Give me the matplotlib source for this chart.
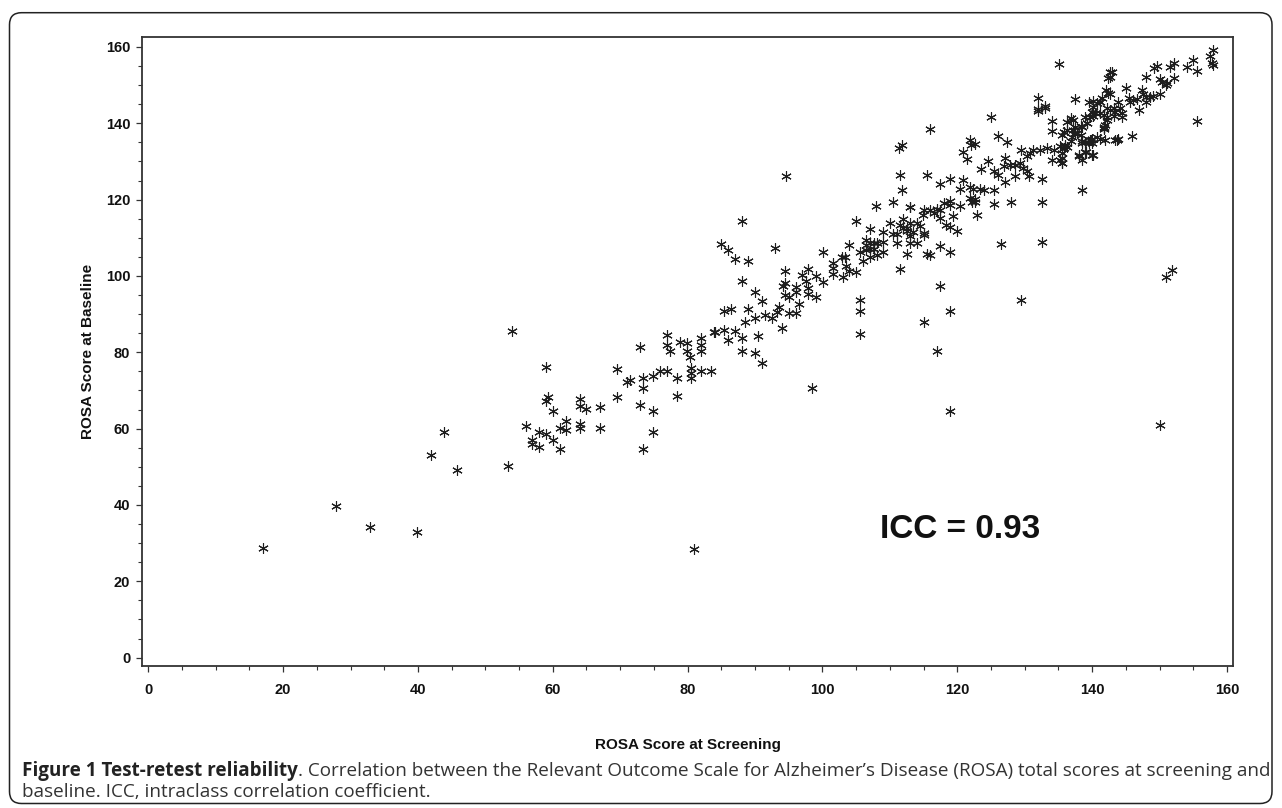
import matplotlib
matplotlib.use("Agg")
import matplotlib.pyplot as plt
from matplotlib.patches import FancyBboxPatch
from matplotlib.ticker import MultipleLocator

# ---------------- data ----------------
# ROSA score at screening (x) and at baseline (y)
screening_low = [17.0, 27.9, 32.9, 39.9, 41.9, 43.9, 45.8, 53.4, 53.9]
baseline_low = [28.8, 39.6, 34.1, 33.0, 53.1, 59.1, 49.2, 50.1, 85.7]

screening_b = [56.0, 56.9, 56.9, 58.0, 58.0, 59.0, 59.0, 59.3, 59.0, 60.0, 60.0, 61.0, 61.0, 62.0, 62.0,
               64.0, 64.0, 64.9, 67.0, 64.0, 64.0, 67.0, 69.5, 69.5, 71.0, 71.5, 73.4, 73.4, 73.0, 73.0,
               74.9, 74.9, 74.9, 73.4, 75.9, 76.9, 78.4, 78.4, 76.9, 76.9, 77.4, 78.9, 79.9, 79.9, 80.4,
               80.5, 80.5, 80.5, 82.0, 83.4, 82.0, 82.0, 82.0, 83.9, 81.0]
baseline_b = [60.6, 57.1, 56.0, 59.1, 55.2, 58.6, 76.2, 68.2, 67.3, 64.7, 57.1, 54.6, 60.2, 62.1, 59.7,
              67.8, 66.0, 65.2, 65.6, 61.2, 60.2, 60.2, 75.7, 68.4, 72.2, 72.8, 73.2, 70.6, 81.3, 66.2,
              73.7, 64.7, 59.1, 54.6, 75.2, 75.2, 73.2, 68.6, 84.4, 81.8, 80.2, 82.8, 82.4, 80.2, 78.7,
              75.9, 74.5, 73.2, 75.2, 75.2, 83.7, 82.0, 80.2, 85.3, 28.4]

screening_c = [88.0, 84.9, 86.0, 87.0, 89.0, 93.0, 88.0, 90.0, 91.0, 85.4, 86.5, 89.0, 88.5, 90.0, 91.5,
               92.5, 84.0, 85.4, 87.0, 86.0, 88.0, 90.5, 88.0, 90.0, 91.0, 94.0, 93.5, 93.3, 95.0, 96.1,
               96.5, 94.5, 94.1, 94.5, 94.5, 95.0, 96.1, 96.1, 96.9, 97.9, 97.6, 97.9, 97.9, 99.0, 99.0,
               100.1, 98.5, 100.1, 101.5, 101.5, 101.5, 103.0, 103.4, 102.9, 103.5, 104.0, 105.0, 104.0, 105.0, 105.5,
               105.5, 105.5, 105.5, 106.0, 106.5, 106.5, 106.5, 107.1, 107.1, 107.6, 108.1, 107.1, 107.6, 107.1, 108.1,
               109.0, 109.0, 109.0, 108.0, 110.4, 110.0, 111.0, 110.5, 111.0, 111.5, 111.5, 112.0, 112.5, 112.5, 113.0,
               113.0, 113.5, 113.0, 114.0, 114.9, 116.5, 117.5, 118.9, 114.0, 115.0, 115.5, 116.0, 117.5, 117.5, 118.9,
               118.9, 115.0, 117.0, 118.9, 94.6, 119.9, 118.4, 117.5]
baseline_c = [114.3, 108.4, 106.9, 104.4, 103.8, 107.4, 98.8, 95.9, 93.4, 90.8, 91.3, 91.3, 87.8, 88.9, 89.8,
              88.9, 85.3, 85.9, 85.6, 83.3, 83.8, 84.3, 80.2, 79.8, 77.2, 86.3, 91.8, 90.5, 90.3, 90.3,
              92.7, 101.4, 97.4, 98.1, 95.1, 94.6, 97.1, 95.7, 100.3, 101.9, 98.6, 96.8, 95.3, 94.6, 100.0,
              98.5, 70.6, 106.3, 103.4, 102.1, 100.6, 99.7, 105.0, 105.0, 102.5, 101.2, 100.9, 108.0, 114.3, 93.8,
              90.8, 84.7, 106.3, 103.8, 109.5, 108.2, 106.9, 112.3, 108.7, 108.7, 108.7, 107.1, 107.1, 105.0, 105.6,
              111.4, 108.8, 106.4, 118.4, 119.3, 113.9, 108.6, 111.1, 111.1, 101.9, 113.4, 112.5, 112.5, 105.8, 118.0,
              110.5, 111.4, 108.6, 113.9, 116.0, 116.5, 117.4, 118.7, 108.6, 111.2, 105.8, 105.4, 107.9, 97.3, 106.4,
              90.8, 87.8, 80.2, 64.7, 126.2, 111.7, 113.4, 115.2]

screening_d = [116.0, 125.0, 111.8, 111.3, 121.9, 122.0, 122.7, 120.9, 121.5, 126.0, 127.4, 115.5, 117.5, 118.9, 120.9,
               120.4, 121.9, 122.4, 123.3, 124.0, 125.5, 121.9, 122.7, 122.7, 122.2, 122.9, 125.5, 128.0, 132.5, 132.5,
               132.5, 126.5, 138.5, 129.5, 113.0, 115.0, 116.0, 117.0, 118.0, 118.9, 120.4, 119.4, 112.0, 113.0, 114.5,
               112.5, 115.0, 118.9, 111.5, 111.8,
               125.4, 126.1, 126.9, 127.1, 127.8, 128.6, 129.3, 129.8, 130.3, 130.6, 128.6, 127.1, 130.8, 131.3, 132.3,
               133.3, 134.3, 135.3, 136.0, 136.8, 137.5, 138.3, 139.2, 140.2, 141.2, 142.2, 143.2, 134.0, 135.3, 135.5,
               138.0, 138.5, 140.0, 139.1, 134.0, 134.0, 132.0, 133.0, 138.5, 139.9, 141.7, 143.4, 137.2, 136.3, 130.3,
               129.5, 124.5, 123.5]
baseline_d = [138.5, 141.6, 134.4, 133.5, 135.7, 134.4, 134.5, 132.6, 130.6, 136.7, 135.0, 126.5, 124.2, 125.5, 125.2,
              122.8, 123.2, 122.8, 122.8, 122.5, 122.6, 120.5, 120.1, 119.3, 119.3, 116.0, 118.9, 119.5, 119.5, 125.5,
              108.9, 108.4, 122.4, 93.8, 118.1, 117.2, 117.2, 117.6, 119.0, 119.6, 118.4, 115.6, 114.8, 113.8, 113.1,
              111.8, 110.8, 112.7, 126.5, 122.6,
              127.4, 126.5, 128.7, 130.9, 129.1, 129.1, 129.6, 128.3, 127.4, 126.1, 126.1, 124.5, 132.2, 133.1, 133.1,
              133.5, 133.1, 134.0, 134.0, 135.3, 137.4, 139.2, 140.1, 141.8, 142.7, 140.9, 141.8, 130.5, 130.5, 129.6,
              131.3, 130.5, 131.8, 132.6, 140.5, 137.9, 143.1, 144.0, 135.3, 135.7, 138.8, 135.7, 140.9, 138.3, 131.5,
              133.0, 130.0, 128.0]

screening_e = [158.0, 157.5, 157.8, 158.0, 155.0, 155.5, 154.1, 155.5, 152.1, 151.6, 152.1, 149.7, 149.2, 148.0, 150.0,
               150.4, 150.9, 151.1, 142.7, 142.9, 142.6, 142.4, 145.1, 142.1, 142.4, 142.7, 147.4, 147.6, 148.0, 148.0,
               148.6, 149.1, 150.1, 137.5, 139.5, 140.2, 140.8, 141.2, 141.5, 143.9, 145.4, 145.6, 146.1, 146.6, 144.1,
               144.4, 144.4, 147.0, 142.2, 142.7, 143.2, 143.4, 141.7, 142.2, 141.7, 141.9, 141.7, 140.2, 140.0, 140.5,
               139.7, 139.0, 139.2, 138.5, 136.8, 136.3, 137.5, 137.2, 137.7, 135.8, 135.5, 137.0, 138.3, 145.9, 143.9,
               143.7, 141.9, 141.2, 140.7, 140.0, 139.7, 139.5, 140.0, 138.5, 139.0, 136.3, 136.0, 135.8, 135.5, 135.5,
               135.5, 138.0, 139.0, 140.2]
baseline_e = [159.2, 157.5, 155.7, 155.2, 156.7, 153.7, 154.7, 140.6, 155.7, 154.8, 151.8, 154.9, 154.5, 152.2, 151.5,
              150.9, 150.0, 150.5, 153.3, 153.5, 152.0, 151.8, 149.2, 148.7, 148.0, 147.7, 148.7, 147.7, 147.0, 145.7,
              147.0, 147.2, 147.7, 146.3, 145.7, 145.9, 145.2, 145.7, 146.5, 145.7, 146.5, 145.7, 146.1, 146.3, 143.9,
              142.6, 141.7, 143.6, 143.9, 143.5, 143.9, 143.0, 142.2, 141.7, 139.1, 139.5, 138.4, 144.3, 143.0, 142.6,
              141.7, 141.7, 140.0, 139.1, 141.3, 140.4, 139.1, 138.2, 137.4, 137.8, 136.9, 136.5, 136.9, 136.7, 136.0,
              135.6, 135.6, 136.0, 136.5, 136.0, 135.6, 134.9, 134.7, 134.7, 135.2, 133.9, 134.3, 133.4, 132.1, 130.8,
              129.5, 131.7, 132.6, 131.7]

screening_f = [135.1, 132.0, 132.0, 133.0, 150.0, 150.9, 151.9]
baseline_f = [155.5, 146.5, 143.8, 144.6, 61.0, 99.7, 101.6]

screening = screening_low + screening_b + screening_c + screening_d + screening_e + screening_f
baseline = baseline_low + baseline_b + baseline_c + baseline_d + baseline_e + baseline_f

x_ticks = [0, 20, 40, 60, 80, 100, 120, 140, 160]
y_ticks = [0, 20, 40, 60, 80, 100, 120, 140, 160]
x_label = "ROSA Score at Screening"
y_label = "ROSA Score at Baseline"
annotation = "ICC = 0.93"
caption_bold = "Figure 1 Test-retest reliability"
caption_rest = (". Correlation between the Relevant Outcome Scale for Alzheimer\u2019s Disease "
                "(ROSA) total scores at screening and")
caption_line2 = "baseline. ICC, intraclass correlation coefficient."

# ---------------- figure ----------------
W, H = 1282, 808
fig = plt.figure(figsize=(W / 100, H / 100), dpi=100)
fig.patch.set_facecolor("white")

# axes box in pixels: left 142, right 1233, top 37, bottom 666
ax = fig.add_axes([142 / W, 1 - 666 / H, (1233 - 142) / W, (666 - 37) / H])

ax.plot(screening, baseline, linestyle="none", marker=(6, 2, 0), markersize=7.5,
        markeredgewidth=0.8, color="#1e1e1e")

ax.set_xlim(-0.93, 160.9)
ax.set_ylim(-2.2, 162.6)
ax.set_xticks(x_ticks)
ax.set_yticks(y_ticks)
ax.xaxis.set_minor_locator(MultipleLocator(5))
ax.yaxis.set_minor_locator(MultipleLocator(5))

tick_font = dict(family=["Liberation Sans", "DejaVu Sans"], weight="bold", size=10.5)
ax.set_xticklabels([str(t) for t in x_ticks], **tick_font)
ax.set_yticklabels([str(t) for t in y_ticks], **tick_font)
ax.tick_params(axis="both", which="major", direction="out", length=4.5, width=0.9,
               color="#333333", labelcolor="#111111")
ax.tick_params(axis="both", which="minor", direction="out", length=3.2, width=0.8, color="#333333")
ax.tick_params(axis="x", which="major", pad=8)
ax.tick_params(axis="y", which="major", pad=4)

for sp in ax.spines.values():
    sp.set_linewidth(1.3)
    sp.set_color("#333333")

label_font = dict(family=["Liberation Sans", "DejaVu Sans"], weight="bold", size=11, color="#111111")
ax.text(0.5, (666 - 745) / (666 - 37), x_label, transform=ax.transAxes, ha="center", va="center",
        **label_font)
ax.text((88 - 142) / (1233 - 142), 0.5, y_label, transform=ax.transAxes, ha="center", va="center",
        rotation=90, **label_font)

ax.text(108.5, 33.5, annotation, ha="left", va="center",
        family=["Liberation Sans", "DejaVu Sans"], weight="bold", size=24, color="#111111")

# rounded frame around the whole figure (pixel coordinates)
frame = FancyBboxPatch((9.5, 4.5), 1272 - 9.5, 795.3 - 4.5,
                       boxstyle="round,pad=0,rounding_size=12", transform=None,
                       facecolor="none", edgecolor="#222222", linewidth=1.1)
fig.patches.append(frame)

# caption, fitted to the width of the frame
cap_family = ["Open Sans", "DejaVu Sans"]
x0_px, x1_px = 22, 1268
y1 = 1 - 771 / H
y2 = 1 - 792 / H
fs = 12.0
renderer = fig.canvas.get_renderer()
for _ in range(3):
    t1 = fig.text(x0_px / W, y1, caption_bold, ha="left", va="center", family=cap_family,
                  weight="bold", size=fs, color="#222222")
    w1 = t1.get_window_extent(renderer).width
    t2 = fig.text((x0_px + w1) / W, y1, caption_rest, ha="left", va="center", family=cap_family,
                  size=fs, color="#333333")
    w2 = t2.get_window_extent(renderer).width
    total = w1 + w2
    t1.remove()
    t2.remove()
    fs = fs * (x1_px - x0_px) / total

t1 = fig.text(x0_px / W, y1, caption_bold, ha="left", va="center", family=cap_family,
              weight="bold", size=fs, color="#222222")
w1 = t1.get_window_extent(renderer).width
fig.text((x0_px + w1) / W, y1, caption_rest, ha="left", va="center", family=cap_family,
         size=fs, color="#333333")
fig.text(x0_px / W, y2, caption_line2, ha="left", va="center", family=cap_family,
         size=fs, color="#333333")

fig.savefig("out.png", dpi=100, facecolor="white")
